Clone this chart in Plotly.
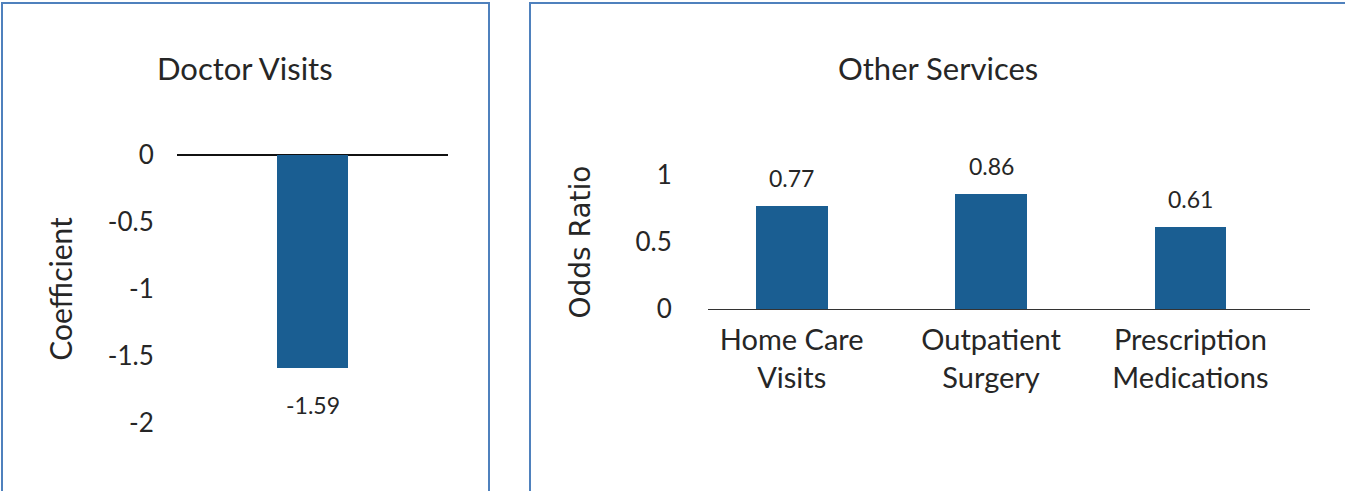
import plotly.graph_objects as go

# ---- data ----
left_categories = ["Doctor Visits"]
left_values = [-1.59]
left_labels = ["-1.59"]
left_ticks = [0, -0.5, -1, -1.5, -2]
left_ticktext = ["0", "-0.5", "-1", "-1.5", "-2"]

right_categories = ["Home Care<br>Visits", "Outpatient<br>Surgery", "Prescription<br>Medications"]
right_values = [0.77, 0.86, 0.61]
right_labels = ["0.77", "0.86", "0.61"]
right_ticks = [0, 0.5, 1]
right_ticktext = ["0", "0.5", "1"]

W, H = 1345, 491
BAR = "#1a5e92"
BORDER = "#4f81bd"
FONT = "Lato"
TXT = "#262626"

def px_x(p):
    return p / W

def px_y(p):
    return 1 - p / H

fig = go.Figure()

fig.add_trace(go.Bar(
    x=left_categories, y=left_values,
    marker=dict(color=BAR, line=dict(width=0)), width=0.26,
    xaxis="x", yaxis="y", showlegend=False,
))

fig.add_trace(go.Bar(
    x=right_categories, y=right_values,
    marker=dict(color=BAR, line=dict(width=0)), width=0.36,
    xaxis="x2", yaxis="y2", showlegend=False,
))

# data labels attached to the bars through the axes
for cat, val, lab in zip(left_categories, left_values, left_labels):
    fig.add_annotation(x=cat, y=val, xref="x", yref="y", text=lab, showarrow=False,
                       yanchor="top", yshift=-21,
                       font=dict(family=FONT, size=23, color=TXT))
for cat, val, lab in zip(right_categories, right_values, right_labels):
    fig.add_annotation(x=cat, y=val, xref="x2", yref="y2", text=lab, showarrow=False,
                       yanchor="bottom", yshift=12,
                       font=dict(family=FONT, size=23, color=TXT))

fig.update_layout(
    width=W, height=H,
    margin=dict(l=0, r=0, t=0, b=0, pad=0),
    paper_bgcolor="white", plot_bgcolor="white",
    font=dict(family=FONT, color=TXT),
    xaxis=dict(domain=[px_x(177), px_x(448)], showticklabels=False, ticks="",
               showline=False, showgrid=False, zeroline=False, anchor="y",
               automargin=False),
    yaxis=dict(domain=[px_y(423), px_y(155)], range=[-2, 0], tickvals=left_ticks,
               ticktext=left_ticktext, showgrid=False, showline=False,
               zeroline=True, zerolinecolor="#111111", zerolinewidth=1.5,
               ticks="outside", ticklen=17, tickcolor="rgba(0,0,0,0)",
               tickfont=dict(family=FONT, size=26, color=TXT),
               title=dict(text="Coefficient", font=dict(family=FONT, size=30, color=TXT), standoff=26),
               anchor="x", automargin=False),
    xaxis2=dict(domain=[px_x(708), px_x(1310)], range=[-0.42, 2.6],
                showgrid=False, zeroline=False,
                showline=True, linecolor="#333333", linewidth=1.2,
                ticks="outside", ticklen=5, tickcolor="rgba(0,0,0,0)",
                tickfont=dict(family=FONT, size=29, color=TXT), anchor="y2",
                automargin=False),
    yaxis2=dict(domain=[px_y(309), px_y(175)], range=[0, 1], tickvals=right_ticks,
                ticktext=right_ticktext, showgrid=False, showline=False, zeroline=False,
                ticks="outside", ticklen=30, tickcolor="rgba(0,0,0,0)",
                tickfont=dict(family=FONT, size=26, color=TXT),
                title=dict(text="Odds Ratio", font=dict(family="DejaVu Sans", size=28, color=TXT), standoff=36),
                anchor="x2", automargin=False),
    bargap=0,
)

fig.add_annotation(text="Doctor Visits", x=px_x(245), y=px_y(68), xref="paper", yref="paper",
                   showarrow=False, font=dict(family=FONT, size=31, color=TXT),
                   xanchor="center", yanchor="middle")
fig.add_annotation(text="Other Services", x=px_x(938), y=px_y(68), xref="paper", yref="paper",
                   showarrow=False, font=dict(family=FONT, size=31, color=TXT),
                   xanchor="center", yanchor="middle")

fig.add_shape(type="rect", xref="paper", yref="paper",
              x0=px_x(2), x1=px_x(489), y0=px_y(520), y1=px_y(3),
              line=dict(color=BORDER, width=2), fillcolor="rgba(0,0,0,0)", layer="above")
fig.add_shape(type="rect", xref="paper", yref="paper",
              x0=px_x(530), x1=px_x(1400), y0=px_y(520), y1=px_y(3),
              line=dict(color=BORDER, width=2), fillcolor="rgba(0,0,0,0)", layer="above")

fig.write_html("out.html")
